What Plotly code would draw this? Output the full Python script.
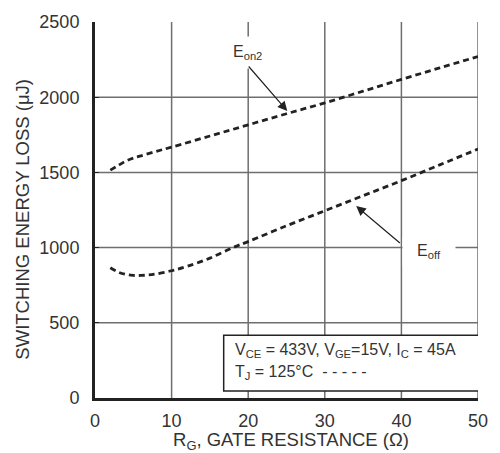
import plotly.graph_objects as go

# Data
rg_on = [2, 3, 4, 5, 6, 8, 10, 15, 20, 25, 30, 35, 40, 45, 50]
eon2 = [1515, 1545, 1575, 1595, 1610, 1640, 1668, 1742, 1816, 1890, 1962, 2040, 2118, 2195, 2270]
rg_off = [2, 3, 4, 5, 6, 7, 8, 10, 12, 15, 18, 20, 25, 30, 35, 40, 45, 50]
eoff = [866, 838, 822, 815, 815, 818, 825, 846, 875, 930, 1000, 1040, 1145, 1245, 1345, 1445, 1550, 1655]

x_ticks = [0, 10, 20, 30, 40, 50]
y_ticks = [0, 500, 1000, 1500, 2000, 2500]
x_grid = [10, 20, 30, 40, 50]
y_grid = [500, 1000, 1500, 2000]

FONT = "Liberation Sans, Arial, sans-serif"
INK = "#222222"
TXT = "#333333"
GRID = "#6e6e6e"

fig = go.Figure()
line_style = dict(color=INK, width=2.8, dash="6px,4px")
fig.add_trace(go.Scatter(x=rg_on, y=eon2, mode="lines", line=dict(**line_style, shape="spline"),
                         showlegend=False, hoverinfo="skip"))
fig.add_trace(go.Scatter(x=rg_off, y=eoff, mode="lines", line=dict(**line_style, shape="spline"),
                         showlegend=False, hoverinfo="skip"))

shapes = []
for gx in x_grid:
    shapes.append(dict(type="line", xref="x", yref="y", x0=gx, x1=gx, y0=0, y1=2500,
                       line=dict(color=GRID, width=1.5), layer="below"))
for gy in y_grid:
    shapes.append(dict(type="line", xref="x", yref="y", x0=0, x1=50, y0=gy, y1=gy,
                       line=dict(color=GRID, width=1.5), layer="below"))

annotations = [
    # Eon2 label and arrow
    dict(x=19.9, y=2300, xref="x", yref="y", text="E<sub>on2</sub>", showarrow=False,
         font=dict(family=FONT, size=16, color=TXT), bgcolor="white", borderpad=6),
    dict(x=25.1, y=1908, ax=19.9, ay=2214, xref="x", yref="y", axref="x", ayref="y", text="",
         showarrow=True, arrowhead=2, arrowsize=1.6, arrowwidth=1.2, arrowcolor=INK),
    # Eoff label and arrow
    dict(x=43.6, y=975, xref="x", yref="y", text="E<sub>off</sub>", showarrow=False,
         font=dict(family=FONT, size=16, color=TXT), bgcolor="white", borderpad=4, width=44),
    dict(x=34.1, y=1276, ax=40.0, ay=1022, xref="x", yref="y", axref="x", ayref="y", text="",
         showarrow=True, arrowhead=2, arrowsize=1.6, arrowwidth=1.2, arrowcolor=INK),
    # conditions box text
    dict(x=18.0, y=318, xref="x", yref="y", xanchor="left", yanchor="middle",
         text="V<sub>CE</sub> = 433V, V<sub>GE</sub>=15V, I<sub>C</sub> = 45A", showarrow=False,
         font=dict(family=FONT, size=16, color=TXT)),
    dict(x=18.0, y=170, xref="x", yref="y", xanchor="left", yanchor="middle",
         text="T<sub>J</sub> = 125°C  - - - - -", showarrow=False,
         font=dict(family=FONT, size=16, color=TXT)),
    # axis titles
    dict(x=0.5, y=-0.077, xref="paper", yref="paper", xanchor="center", yanchor="top",
         text="R<sub>G</sub>, GATE RESISTANCE (Ω)", showarrow=False,
         font=dict(family=FONT, size=18.5, color=TXT), xshift=4),
    dict(x=-0.19, y=0.475, xref="paper", yref="paper", xanchor="center", yanchor="middle",
         text="SWITCHING ENERGY LOSS (μJ)", textangle=-90, showarrow=False,
         font=dict(family=FONT, size=18.5, color=TXT)),
]
shapes.append(dict(type="rect", xref="x", yref="y", x0=16.8, x1=50.1, y0=46, y1=417,
                   line=dict(color=INK, width=1.5), fillcolor="white", layer="above"))

fig.update_layout(
    width=500, height=453,
    margin=dict(l=95, r=21, t=14, b=55),
    paper_bgcolor="white", plot_bgcolor="white",
    shapes=shapes, annotations=annotations,
    xaxis=dict(range=[0, 50], tickvals=x_ticks, showgrid=False, zeroline=False,
               showline=True, linecolor=INK, linewidth=3, ticks="", ticklabelstandoff=4,
               tickfont=dict(family=FONT, size=18, color=TXT)),
    yaxis=dict(range=[0, 2500], tickvals=y_ticks, showgrid=False, zeroline=False,
               showline=True, linecolor=INK, linewidth=3, ticks="inside", ticklen=4,
               tickcolor=INK, ticklabelstandoff=9,
               tickfont=dict(family=FONT, size=18, color=TXT)),
)

fig.write_html("out.html")
